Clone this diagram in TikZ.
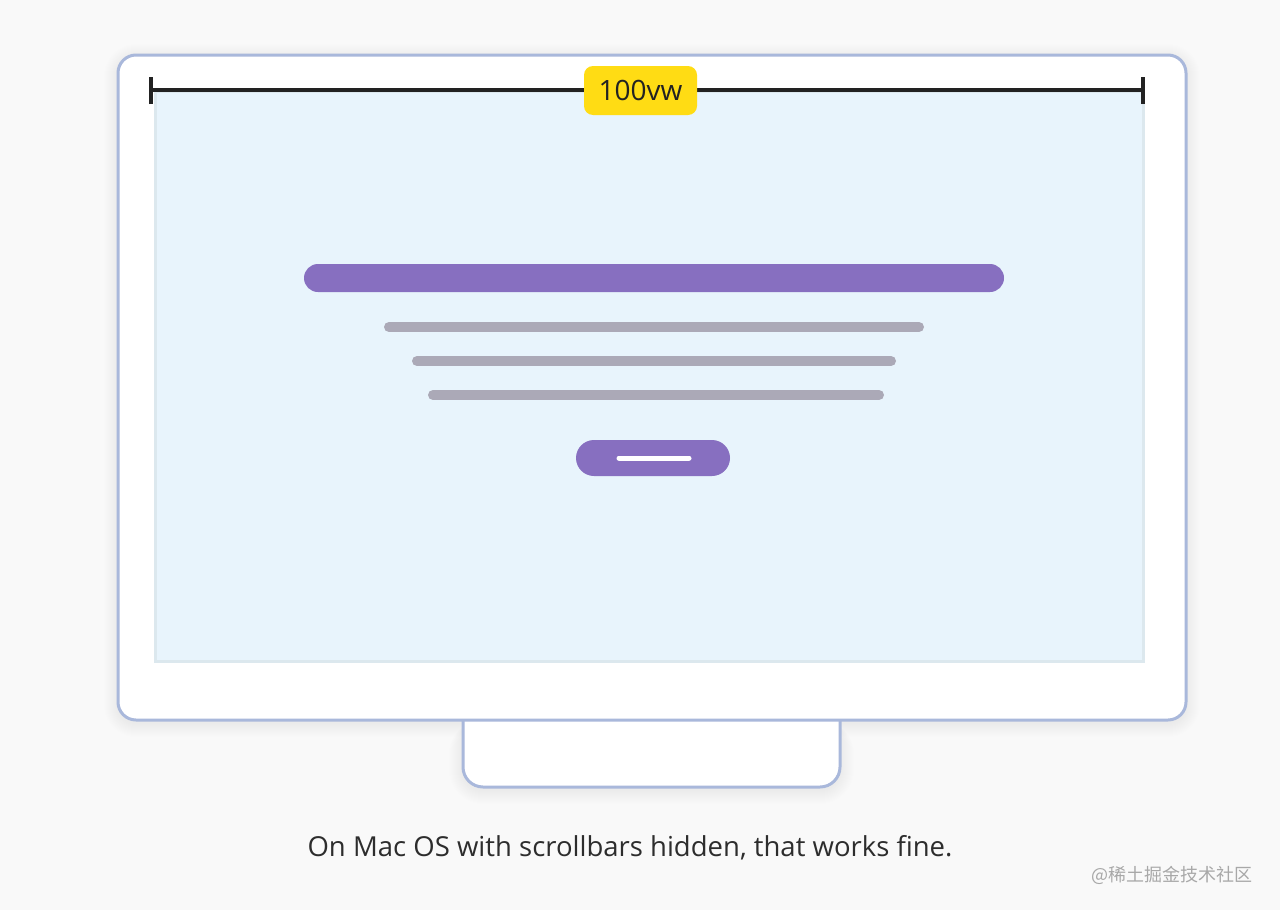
\documentclass[tikz,border=0pt]{standalone}
\usepackage{fontspec}
\setmainfont{Open Sans}
\newfontfamily\cjk{Noto Sans CJK SC}
\definecolor{bgc}{HTML}{F9F9F9}
\definecolor{framec}{HTML}{A9B8DB}
\definecolor{screenc}{HTML}{E8F4FC}
\definecolor{screenedge}{HTML}{DCE8EE}
\definecolor{purplec}{HTML}{876FC0}
\definecolor{grayline}{HTML}{ABA9B7}
\definecolor{yellowc}{HTML}{FFDC14}
\definecolor{inkc}{HTML}{222222}
\definecolor{wmc}{HTML}{A8A8A8}
\tikzset{
  framebox/.style={draw=framec, line width=3pt, fill=white, rounded corners=18pt},
  textline/.style={grayline, line width=10pt, line cap=round},
  measure/.style={inkc, line width=3.5pt},
  shadowring/.style={fill=black, fill opacity=0.0045},
}
\begin{document}
\begin{tikzpicture}[x=1pt,y=-1pt]
\useasboundingbox (0,0) rectangle (1280,910);
\fill[bgc] (0,0) rectangle (1280,910);
% soft shadows
\foreach \i in {1,...,14}{
  \fill[shadowring, rounded corners=18pt+\i pt] (118-\i,55-\i+3) rectangle (1186+\i,720+\i+3);
  \fill[shadowring, rounded corners=20pt+\i pt] (463-\i,720) rectangle (840+\i,787+\i+3);
}
% stand
\draw[draw=framec, line width=3pt, fill=white, rounded corners=20pt]
  (463,700) -- (463,787) -- (840,787) -- (840,700);
% monitor
\node[framebox, minimum width=1068pt, minimum height=665pt] (monitor) at (652,387.5) {};
% screen
\node[draw=screenedge, line width=3pt, fill=screenc, minimum width=988pt, minimum height=570pt, inner sep=0pt] (screen) at (649,376) {};
% measure line
\coordinate (ml) at (151,90);
\coordinate (mr) at (1143,90);
\draw[measure] (ml) -- (mr);
\draw[measure] ([yshift=-14pt]ml) -- ([yshift=13pt]ml);
\draw[measure] ([yshift=-14pt]mr) -- ([yshift=13pt]mr);
\node[fill=yellowc, rounded corners=9pt, minimum width=113pt, minimum height=49pt, inner sep=0pt, text=inkc, font=\fontsize{28}{32}\selectfont] (label) at (640.5,90.5) {100vw};
% content
\node[fill=purplec, rounded corners=14pt, minimum width=700pt, minimum height=28pt, inner sep=0pt] (title) at (654,278) {};
\coordinate (l1a) at (389,327); \coordinate (l1b) at (919,327);
\coordinate (l2a) at (417,361); \coordinate (l2b) at (891,361);
\coordinate (l3a) at (433,395); \coordinate (l3b) at (879,395);
\draw[textline] (l1a) -- (l1b);
\draw[textline] (l2a) -- (l2b);
\draw[textline] (l3a) -- (l3b);
\node[fill=purplec, rounded corners=18pt, minimum width=154pt, minimum height=36pt, inner sep=0pt] (button) at (653,458) {};
\draw[white, line width=5pt, line cap=round] ([xshift=-34pt]button.center) -- ([xshift=36pt]button.center);
% caption
\node[text=inkc!95, font=\fontsize{27.5}{32}\selectfont] (caption) at (630,848) {On Mac OS with scrollbars hidden, that works fine.};
\node[text=wmc, anchor=east, font=\cjk\fontsize{18}{22}\selectfont] (wm) at (1256,875) {@稀土掘金技术社区};
\end{tikzpicture}
\end{document}
